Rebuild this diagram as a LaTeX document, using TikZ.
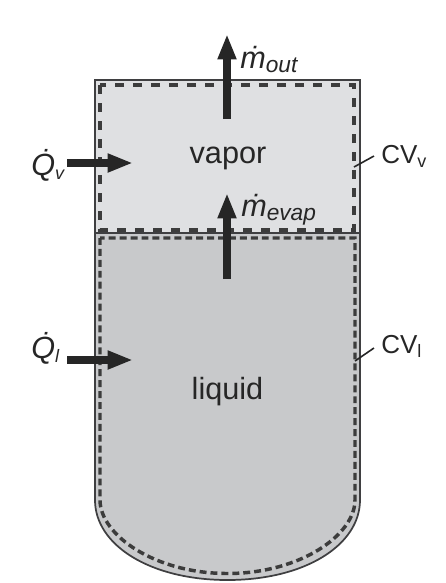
\documentclass[tikz,border=0pt]{standalone}
\usepackage{fontspec}
\setmainfont{Liberation Sans}
\usetikzlibrary{arrows.meta}
\definecolor{vaporfill}{HTML}{DFE0E2}
\definecolor{liquidfill}{HTML}{C8C9CB}
\definecolor{wallcol}{HTML}{3F3F41}
\definecolor{inkcol}{HTML}{262626}
\tikzset{
  wall/.style={draw=wallcol,line width=1.3pt},
  cvline/.style={draw=inkcol!90!white,line width=2.6pt},
  flow/.style={draw=inkcol,line width=5.4pt,-{Triangle[length=19pt,width=13pt]},shorten >=0pt},
  lbl/.style={inner sep=0pt,text=inkcol,font=\fontsize{23}{26}\selectfont},
  symb/.style={inner sep=0pt,anchor=base west,text=inkcol,font=\fontsize{23}{26}\selectfont\itshape},
  cvlab/.style={inner sep=0pt,anchor=base west,text=inkcol,font=\fontsize{19.5}{24}\selectfont},
  leader/.style={draw=inkcol,line width=1.2pt}
}
\newcommand{\subbig}[1]{\raisebox{-3pt}{\fontsize{17}{18}\selectfont #1}}
\newcommand{\subsmall}[1]{\raisebox{-3pt}{\fontsize{13.5}{16}\selectfont #1}}
\begin{document}
\begin{tikzpicture}[x=0.75pt,y=-0.75pt]
\useasboundingbox (0,0) rectangle (446,583);
% regions
\fill[vaporfill] (95,80) rectangle (360,233);
\fill[liquidfill] (95,233) -- (95,500) .. controls (95,545) and (150,580) .. (227.5,580) .. controls (305,580) and (360,545) .. (360,500) -- (360,233) -- cycle;
% control volumes
\draw[cvline,dash pattern=on 7pt off 6.5pt] (100,85) rectangle (354,230);
\draw[cvline,dash pattern=on 5.2pt off 3pt] (100,238) -- (100,500) .. controls (100,535) and (155,573.5) .. (227.5,573.5) .. controls (300,573.5) and (355,535) .. (355,500) -- (355,238) -- cycle;
% vessel
\draw[wall] (95,500) -- (95,80) -- (360,80) -- (360,500) .. controls (360,545) and (305,580) .. (227.5,580) .. controls (150,580) and (95,545) .. (95,500) -- cycle;
\draw[wallcol,line width=0.9pt] (95,233) -- (360,233);
% coordinates
\coordinate (mouta) at (227,119);
\coordinate (moutb) at (227,34);
\coordinate (meva) at (227,279);
\coordinate (mevb) at (227,193);
\coordinate (qva) at (67,163);
\coordinate (qvb) at (133,163);
\coordinate (qla) at (67,360);
\coordinate (qlb) at (133,360);
\coordinate (cvvp) at (354,167);
\coordinate (cvlp) at (355,361);
% arrows
\draw[flow] (mouta) -- (moutb);
\draw[flow] (meva) -- (mevb);
\draw[flow] (qva) -- (qvb);
\draw[flow] (qla) -- (qlb);
% labels
\node[lbl] (vapor) at (228,158) {vapor};
\node[lbl] (liquid) at (227.5,392) {liquid};
\node[symb] (mout) at (240,68) {\.m\subbig{out}};
\node[symb] (mevap) at (241,216) {\.m\subbig{evap}};
\node[symb] (qv) at (31,175) {\.Q\subsmall{v}};
\node[symb] (ql) at (31,358) {\.Q\subsmall{l}};
\node[cvlab] (cvv) at (381,163) {CV\subsmall{v}};
\node[cvlab] (cvl) at (381,353) {CV\subsmall{l}};
\draw[leader] (cvvp) -- (374,156);
\draw[leader] (cvlp) -- (374,348);
\end{tikzpicture}
\end{document}
